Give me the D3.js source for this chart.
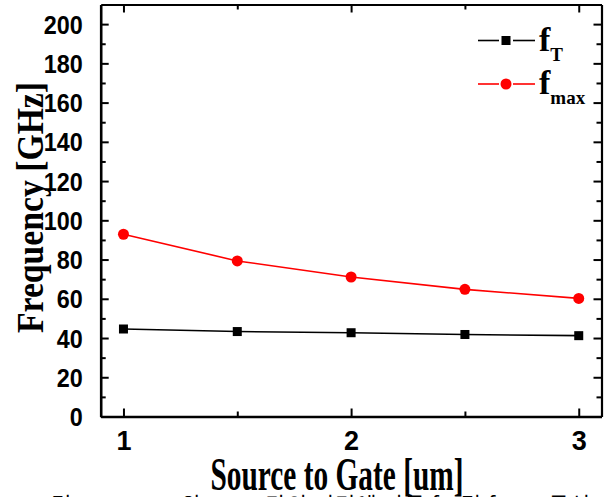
<!DOCTYPE html>
<html>
<head>
<meta charset="utf-8">
<script src="https://cdn.jsdelivr.net/npm/d3@7"></script>
<style>
  html, body { margin: 0; padding: 0; background: #fff; }
  svg { display: block; }
</style>
</head>
<body>
<svg id="chart" width="608" height="497"></svg>
<script>
// Source-to-gate spacing (um)
const spacing = [1, 1.5, 2, 2.5, 3];
// Cut-off frequency and maximum oscillation frequency (GHz)
const fT = [44.6, 43.3, 42.7, 41.8, 41.2];
const fMax = [92.9, 79.3, 71.1, 64.8, 60.2];
const yTicks = [0, 20, 40, 60, 80, 100, 120, 140, 160, 180, 200];
const yMinor = [10, 30, 50, 70, 90, 110, 130, 150, 170, 190];
const xTicks = [1, 2, 3];
const xMinor = [1.5, 2.5];

const svg = d3.select("#chart");
const plotLeft = 100.7, plotRight = 601.5, plotTop = 4.5, plotBottom = 416.5;

const x = d3.scaleLinear().domain([0.9, 3.1]).range([plotLeft, plotRight]);
const y = d3.scaleLinear().domain([0, 210]).range([plotBottom, plotTop]);

const tickFont = "'Liberation Sans', Arial, sans-serif";
const serif = "'Liberation Serif', 'Times New Roman', serif";

function styleAxis(g, width) {
  g.select(".domain").attr("stroke", "#000").attr("stroke-width", width);
  g.selectAll(".tick line").attr("stroke", "#000").attr("stroke-width", 2);
}

// Major ticks point inward on all four sides
const gBottom = svg.append("g").attr("transform", `translate(0,${plotBottom})`)
  .call(d3.axisBottom(x).tickValues(xTicks).tickSizeInner(-8).tickSizeOuter(0).tickPadding(14).tickFormat(d3.format("d")));
styleAxis(gBottom, 2.6);
gBottom.selectAll(".tick text")
  .attr("font-family", tickFont).attr("font-weight", "bold").attr("font-size", 27)
  .attr("fill", "#000").attr("dy", "0.71em");

const gTop = svg.append("g").attr("transform", `translate(0,${plotTop})`)
  .call(d3.axisTop(x).tickValues(xTicks).tickSizeInner(-8).tickSizeOuter(0).tickFormat(""));
styleAxis(gTop, 2.2);

const gLeft = svg.append("g").attr("transform", `translate(${plotLeft},0)`)
  .call(d3.axisLeft(y).tickValues(yTicks).tickSizeInner(-8).tickSizeOuter(0).tickPadding(18));
styleAxis(gLeft, 2.6);
gLeft.selectAll(".tick text")
  .attr("font-family", tickFont).attr("font-weight", "bold").attr("font-size", 25)
  .attr("fill", "#000").attr("dy", "0.36em")
  .attr("textLength", d => String(d).length * 13)
  .attr("lengthAdjust", "spacingAndGlyphs");

const gRight = svg.append("g").attr("transform", `translate(${plotRight},0)`)
  .call(d3.axisRight(y).tickValues(yTicks).tickSizeInner(-8).tickSizeOuter(0).tickFormat(""));
styleAxis(gRight, 2.2);

// Minor ticks
const minor = [
  [d3.axisBottom(x).tickValues(xMinor), `translate(0,${plotBottom})`],
  [d3.axisTop(x).tickValues(xMinor), `translate(0,${plotTop})`],
  [d3.axisLeft(y).tickValues(yMinor), `translate(${plotLeft},0)`],
  [d3.axisRight(y).tickValues(yMinor), `translate(${plotRight},0)`]
];
minor.forEach(([ax, tr]) => {
  const g = svg.append("g").attr("transform", tr)
    .call(ax.tickSizeInner(-5).tickSizeOuter(0).tickFormat(""));
  g.select(".domain").remove();
  g.selectAll(".tick line").attr("stroke", "#000").attr("stroke-width", 2);
});

// Series
const line = d3.line().x(d => x(d[0])).y(d => y(d[1]));
const tData = spacing.map((s, i) => [s, fT[i]]);
const mData = spacing.map((s, i) => [s, fMax[i]]);

svg.append("path").datum(tData).attr("d", line)
  .attr("fill", "none").attr("stroke", "#000").attr("stroke-width", 1.6);
svg.append("path").datum(mData).attr("d", line)
  .attr("fill", "none").attr("stroke", "#ff0000").attr("stroke-width", 1.6);

svg.selectAll("rect.ft").data(tData).join("rect").attr("class", "ft")
  .attr("x", d => x(d[0]) - 4.5).attr("y", d => y(d[1]) - 4.5)
  .attr("width", 9).attr("height", 9).attr("fill", "#000");
svg.selectAll("circle.fmax").data(mData).join("circle").attr("class", "fmax")
  .attr("cx", d => x(d[0])).attr("cy", d => y(d[1])).attr("r", 5.5)
  .attr("fill", "#ff0000");

// Legend
const legend = svg.append("g");
const rows = [
  { y: 40.5, color: "#000", shape: "square", main: "f", sub: "T" },
  { y: 84, color: "#ff0000", shape: "circle", main: "f", sub: "max" }
];
rows.forEach(r => {
  legend.append("line").attr("x1", 478).attr("x2", 499).attr("y1", r.y).attr("y2", r.y)
    .attr("stroke", r.color).attr("stroke-width", 1.6);
  legend.append("line").attr("x1", 513).attr("x2", 535).attr("y1", r.y).attr("y2", r.y)
    .attr("stroke", r.color).attr("stroke-width", 1.6);
  if (r.shape === "square") {
    legend.append("rect").attr("x", 501.5).attr("y", r.y - 4.5).attr("width", 9).attr("height", 9).attr("fill", r.color);
  } else {
    legend.append("circle").attr("cx", 506).attr("cy", r.y).attr("r", 5.5).attr("fill", r.color);
  }
  const t = legend.append("text").attr("x", 539).attr("y", r.y + 10)
    .attr("font-family", serif).attr("font-weight", "bold").attr("font-size", 34).attr("fill", "#000");
  t.append("tspan").text(r.main);
  t.append("tspan").attr("dy", 10).attr("font-size", 19).text(r.sub);
});

// Axis titles
svg.append("text")
  .attr("transform", `translate(43,${(82 + 333) / 2}) rotate(-90)`)
  .attr("text-anchor", "middle")
  .attr("font-family", serif).attr("font-weight", "bold").attr("font-size", 37)
  .attr("textLength", 251).attr("lengthAdjust", "spacingAndGlyphs")
  .attr("fill", "#000")
  .text("Frequency [GHz]");

svg.append("text")
  .attr("x", 337).attr("y", 490)
  .attr("text-anchor", "middle")
  .attr("font-family", serif).attr("font-weight", "bold").attr("font-size", 46)
  .attr("textLength", 253).attr("lengthAdjust", "spacingAndGlyphs")
  .attr("fill", "#000")
  .text("Source to Gate [um]");

// Figure caption running below the page edge
svg.append("text")
  .attr("x", 30).attr("y", 513)
  .attr("font-family", "'Noto Sans CJK KR', sans-serif").attr("font-size", 22)
  .attr("textLength", 560).attr("lengthAdjust", "spacing")
  .attr("fill", "#000")
  .text("그림 7. Source와 Gate 간의 거리에 따른 fT 및 fmax 특성");
</script>
</body>
</html>
